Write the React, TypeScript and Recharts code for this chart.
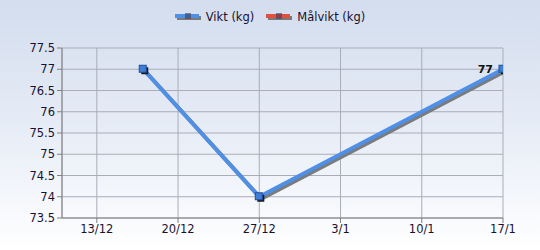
import { LineChart, Line, XAxis, YAxis, CartesianGrid, Legend, LabelList } from 'recharts';

// days counted from 13/12
const days = [4, 14, 35];
const vikt = [77, 74, 77];
const malvikt: (number | null)[] = [null, null, null];

const xTicks = [0, 7, 14, 21, 28, 35];
const xTickLabels = ['13/12', '20/12', '27/12', '3/1', '10/1', '17/1'];
const yTicks = [73.5, 74, 74.5, 75, 75.5, 76, 76.5, 77, 77.5];

const data = days.map((d, i) => ({ day: d, vikt: vikt[i], malvikt: malvikt[i] }));

const font = '"DejaVu Sans", Verdana, sans-serif';

function SquareDot(props: any) {
    const { cx, cy } = props;
    if (cx == null || cy == null) return null;
    return (
        <g>
            <rect x={cx - 2} y={cy - 2} width={7} height={7} fill="#1a1a1a" />
            <rect x={cx - 4} y={cy - 4} width={7} height={7} fill="#3d7fd8" stroke="#1f4f9a" strokeWidth={1} />
        </g>
    );
}

function LastLabel(props: any) {
    const { x, y, value, index } = props;
    if (index !== days.length - 1) return null;
    return (
        <text x={x - 10} y={y + 4} textAnchor="end" fontSize={11} fontWeight="bold" fill="#111" fontFamily={font}>
            {value}
        </text>
    );
}

function LegendIcon({ color, x }: { color: string; x: number }) {
    return (
        <g>
            <rect x={x + 2} y={3} width={24} height={4} fill="#7a7a7a" />
            <rect x={x} y={1} width={24} height={4} fill={color} />
            <rect x={x + 10} y={0} width={6} height={6} fill="#3d3d5a" opacity={0.6} />
        </g>
    );
}

function CustomLegend() {
    return (
        <div style={{ display: 'flex', justifyContent: 'center', fontFamily: font, fontSize: 11.5, color: '#1a1030', height: 14, lineHeight: '14px' }}>
            <div style={{ display: 'flex', alignItems: 'center', marginRight: 12 }}>
                <svg width={28} height={9} style={{ marginRight: 3 }}>
                    <LegendIcon color="#4f8fe6" x={0} />
                </svg>
                Vikt (kg)
            </div>
            <div style={{ display: 'flex', alignItems: 'center' }}>
                <svg width={28} height={9} style={{ marginRight: 3 }}>
                    <LegendIcon color="#e0523f" x={0} />
                </svg>
                Målvikt (kg)
            </div>
        </div>
    );
}

export default function App() {
    return (
        <div
            style={{
                position: 'absolute',
                left: 0,
                top: 0,
                width: 540,
                height: 250,
                background: 'linear-gradient(to bottom, #d3ddee 0%, #e6ecf6 50%, #ffffff 100%)',
            }}
        >
            <style>{`.vikt-line path.recharts-line-curve { filter: drop-shadow(2px 2px 0 #7b7b7b); }`}</style>
            <LineChart width={540} height={250} data={data} margin={{ top: 34, right: 37, left: 10, bottom: 2 }}>
                <CartesianGrid stroke="#a9adb8" strokeWidth={1} />
                <XAxis
                    dataKey="day"
                    type="number"
                    domain={[-3, 35]}
                    ticks={xTicks}
                    tickFormatter={(v: number) => xTickLabels[xTicks.indexOf(v)]}
                    tick={{ fill: '#1a1030', fontSize: 11.5, fontFamily: font }}
                    stroke="#808080"
                    tickSize={5}
                    height={30}
                    allowDataOverflow
                />
                <YAxis
                    type="number"
                    domain={[73.5, 77.5]}
                    ticks={yTicks}
                    tick={{ fill: '#1a1030', fontSize: 11.5, fontFamily: font }}
                    stroke="#808080"
                    tickSize={5}
                    width={52}
                    interval={0}
                />
                <Legend verticalAlign="top" height={14} content={<CustomLegend />} wrapperStyle={{ top: 10, left: 0, width: 540 }} />
                <Line
                    dataKey="malvikt"
                    name="Målvikt (kg)"
                    stroke="#e0523f"
                    strokeWidth={4}
                    dot={false}
                    isAnimationActive={false}
                />
                <Line
                    className="vikt-line"
                    dataKey="vikt"
                    name="Vikt (kg)"
                    stroke="#4f8fe6"
                    strokeWidth={4}
                    dot={<SquareDot />}
                    isAnimationActive={false}
                >
                    <LabelList dataKey="vikt" content={<LastLabel />} />
                </Line>
            </LineChart>
        </div>
    );
}
